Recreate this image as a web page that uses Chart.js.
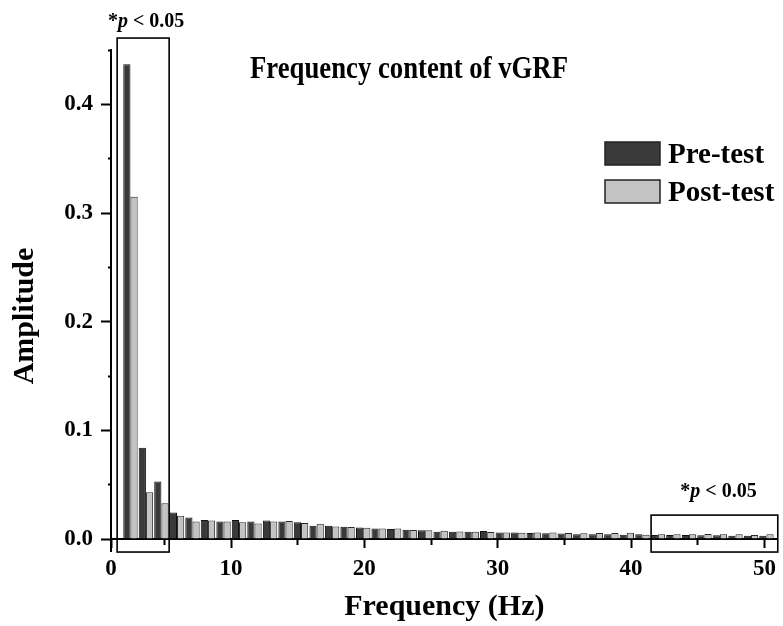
<!DOCTYPE html>
<html lang="en">
<head>
<meta charset="UTF-8">
<title>Frequency content of vGRF</title>
<script src="https://cdn.jsdelivr.net/npm/chart.js"></script>
<style>
    html, body {
        margin: 0;
        padding: 0;
        background: #fff;
    }
</style>
</head>
<body>
<canvas id="chartCanvas" width="783" height="626"></canvas>

<script>
// bar centres (Hz) and amplitudes
const freqHz = [2.46, 3.62, 4.78, 5.95, 7.11, 8.27, 9.44, 10.60, 11.76, 12.93,
                14.09, 15.25, 16.42, 17.58, 18.74, 19.91, 21.07, 22.23, 23.40, 24.56,
                25.72, 26.89, 28.05, 29.21, 30.38, 31.54, 32.70, 33.87, 35.03, 36.19,
                37.36, 38.52, 39.68, 40.85, 42.01, 43.17, 44.34, 45.50, 46.66, 47.83,
                48.99, 50.15];
const preTest = [0.437, 0.084, 0.053, 0.0244, 0.0198, 0.0175, 0.016, 0.0175, 0.016, 0.017,
                 0.016, 0.0153, 0.0122, 0.0122, 0.0113, 0.0105, 0.0097, 0.0092, 0.0086, 0.008,
                 0.0066, 0.0067, 0.0067, 0.0073, 0.006, 0.006, 0.0055, 0.0052, 0.005, 0.0043,
                 0.0043, 0.0043, 0.004, 0.0043, 0.0037, 0.0037, 0.0037, 0.0034, 0.0034, 0.003,
                 0.003, 0.003];
const postTest = [0.315, 0.043, 0.033, 0.0214, 0.016, 0.017, 0.016, 0.0153, 0.0143, 0.0162,
                  0.0165, 0.0147, 0.014, 0.0116, 0.011, 0.0103, 0.0097, 0.0097, 0.0083, 0.008,
                  0.0077, 0.007, 0.0067, 0.0064, 0.006, 0.0058, 0.006, 0.006, 0.0055, 0.0052,
                  0.0055, 0.0055, 0.0058, 0.004, 0.0043, 0.0043, 0.0043, 0.0046, 0.0043, 0.0043,
                  0.0037, 0.0043];

const xTickValues = [1, 5, 10, 15, 20, 25, 30, 35, 40, 45, 50];
const xTickLabels = ['0', '', '10', '', '20', '', '30', '', '40', '', '50'];
const yTickValues = [0, 0.05, 0.1, 0.15, 0.2, 0.25, 0.3, 0.35, 0.4, 0.45];
const yTickLabels = ['0.0', '', '0.1', '', '0.2', '', '0.3', '', '0.4', ''];

// significance windows: [xFrom, xTo, yFrom, yTo] in data units
const sigWindows = [
    [1.46, 5.36, -0.012, 0.461],
    [41.5, 51, -0.012, 0.022]
];

const serif = "'Liberation Serif', 'Times New Roman', serif";
Chart.defaults.font.family = serif;
Chart.defaults.color = '#000';

function drawSigLabel(ctx, cx, baseline) {
    const parts = [['*', 'bold'], ['p', 'italic bold'], [' < 0.05', 'bold']];
    let total = 0;
    parts.forEach(p => {
        ctx.font = `${p[1]} 20px ${serif}`;
        total += ctx.measureText(p[0]).width;
    });
    let x = cx - total / 2;
    ctx.textAlign = 'left';
    ctx.textBaseline = 'alphabetic';
    parts.forEach(p => {
        ctx.font = `${p[1]} 20px ${serif}`;
        ctx.fillText(p[0], x, baseline);
        x += ctx.measureText(p[0]).width;
    });
}

const decorations = {
    id: 'decorations',
    afterDatasetsDraw(chart) {
        const { ctx, chartArea, scales: { x, y } } = chart;
        ctx.save();
        ctx.strokeStyle = '#000';
        ctx.lineWidth = 1.6;
        sigWindows.forEach(b => {
            const x0 = x.getPixelForValue(b[0]);
            const x1 = x.getPixelForValue(b[1]);
            const yb = y.getPixelForValue(b[2]);
            const yt = y.getPixelForValue(b[3]);
            ctx.strokeRect(x0, yt, x1 - x0, yb - yt);
        });
        // y axis runs a little below zero
        ctx.lineWidth = 2;
        ctx.beginPath();
        ctx.moveTo(chartArea.left, y.getPixelForValue(0));
        ctx.lineTo(chartArea.left, y.getPixelForValue(-0.012));
        ctx.stroke();
        ctx.restore();
    },
    afterDraw(chart) {
        const { ctx, scales: { x, y } } = chart;
        ctx.save();
        ctx.fillStyle = '#000';

        // title (slightly condensed in the original)
        const title = 'Frequency content of vGRF';
        ctx.font = `bold 31px ${serif}`;
        const tw = ctx.measureText(title).width;
        ctx.save();
        ctx.translate(409, 78);
        ctx.scale(Math.min(1, 318 / tw), 1);
        ctx.textAlign = 'center';
        ctx.textBaseline = 'alphabetic';
        ctx.fillText(title, 0, 0);
        ctx.restore();

        // y axis title
        ctx.save();
        ctx.translate(33, 316);
        ctx.rotate(-Math.PI / 2);
        ctx.font = `bold 30px ${serif}`;
        ctx.textAlign = 'center';
        ctx.textBaseline = 'alphabetic';
        ctx.fillText('Amplitude', 0, 0);
        ctx.restore();

        // significance labels above the windows
        sigWindows.forEach((b, i) => {
            const cx = (x.getPixelForValue(b[0]) + x.getPixelForValue(b[1])) / 2;
            const top = y.getPixelForValue(b[3]);
            drawSigLabel(ctx, cx + (i === 0 ? 3 : 4), top - (i === 0 ? 11 : 18));
        });

        // legend
        chart.data.datasets.forEach((ds, i) => {
            const top = 142 + i * 38;
            ctx.fillStyle = ds.backgroundColor;
            ctx.fillRect(605, top, 55, 23);
            ctx.strokeStyle = '#222';
            ctx.lineWidth = 1.5;
            ctx.strokeRect(605, top, 55, 23);
            ctx.fillStyle = '#000';
            ctx.font = `bold 29px ${serif}`;
            ctx.textAlign = 'left';
            ctx.textBaseline = 'alphabetic';
            ctx.fillText(ds.label, 668, top + 21);
        });
        ctx.restore();
    }
};

new Chart(document.getElementById('chartCanvas'), {
    type: 'bar',
    data: {
        datasets: [{
            label: 'Pre-test',
            data: freqHz.map((f, i) => ({ x: f, y: preTest[i] })),
            backgroundColor: '#3a3a3a',
            borderColor: '#111',
            borderWidth: 1
        }, {
            label: 'Post-test',
            data: freqHz.map((f, i) => ({ x: f, y: postTest[i] })),
            backgroundColor: '#c3c3c3',
            borderColor: '#2a2a2a',
            borderWidth: 1
        }]
    },
    options: {
        responsive: false,
        animation: false,
        datasets: {
            bar: { categoryPercentage: 0.93, barPercentage: 1 }
        },
        layout: { padding: { top: 50, right: 3, left: 0, bottom: 0 } },
        plugins: {
            legend: { display: false },
            title: { display: false },
            tooltip: { enabled: false }
        },
        scales: {
            x: {
                type: 'linear',
                min: 1,
                max: 51,
                offset: false,
                afterFit: s => { s.height = 87; },
                afterBuildTicks: s => { s.ticks = xTickValues.map(v => ({ value: v })); },
                border: { color: '#000', width: 2 },
                grid: {
                    drawOnChartArea: false,
                    offset: false,
                    tickLength: 9,
                    tickWidth: 2,
                    tickColor: '#000',
                    tickBorderDash: c => (c.index % 2 ? [5, 20] : []),
                    tickBorderDashOffset: 0
                },
                ticks: {
                    autoSkip: false,
                    maxRotation: 0,
                    padding: 7,
                    color: '#000',
                    font: { size: 23, weight: 'bold' },
                    callback: (v, i) => xTickLabels[i]
                },
                title: {
                    display: true,
                    text: 'Frequency (Hz)',
                    color: '#000',
                    font: { size: 30, weight: 'bold' },
                    padding: { top: 0, bottom: 1 }
                }
            },
            y: {
                min: 0,
                max: 0.45,
                afterFit: s => { s.width = 111; },
                afterBuildTicks: s => { s.ticks = yTickValues.map(v => ({ value: v })); },
                border: { color: '#000', width: 2 },
                grid: {
                    drawOnChartArea: false,
                    tickLength: 10,
                    tickWidth: 2,
                    tickColor: '#000',
                    tickBorderDash: c => (c.index % 2 ? [6, 20] : []),
                    tickBorderDashOffset: c => (c.index % 2 ? 19 : 0)
                },
                ticks: {
                    autoSkip: false,
                    padding: 8,
                    color: '#000',
                    font: { size: 23, weight: 'bold' },
                    callback: (v, i) => yTickLabels[i]
                }
            }
        }
    },
    plugins: [decorations]
});
</script>
</body>
</html>
